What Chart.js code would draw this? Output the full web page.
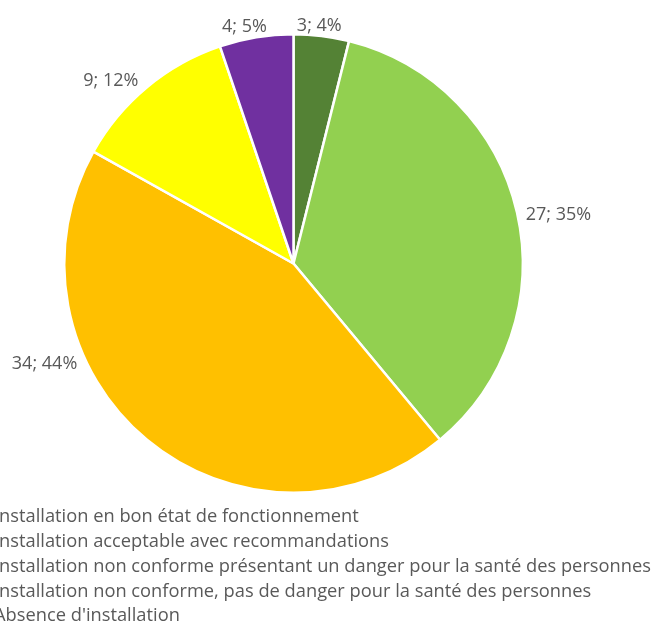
<!DOCTYPE html>
<html>
<head>
<meta charset="utf-8">
<script src="https://cdn.jsdelivr.net/npm/chart.js@4.4.1/dist/chart.umd.min.js"></script>
<style>
  html, body { margin: 0; padding: 0; background: #fff; overflow: hidden; }
  #wrap { position: relative; width: 655px; height: 628px; }
</style>
</head>
<body>
<div id="wrap"><canvas id="chart" width="655" height="628"></canvas></div>
<script>
// Catégories (ordre de la légende)
const categories = [
  "Installation en bon état de fonctionnement",
  "Installation acceptable avec recommandations",
  "Installation non conforme présentant un danger pour la santé des personnes",
  "Installation non conforme, pas de danger pour la santé des personnes",
  "Absence d'installation"
];
// Nombre d'installations par catégorie
const counts = [3, 27, 34, 9, 4];
// Pourcentages affichés
const percents = [4, 35, 44, 12, 5];
const sliceColors = ['#548235', '#92D050', '#FFC000', '#FFFF00', '#7030A0'];

const TEXT_COLOR = '#595959';
const FONT = '"Open Sans", "DejaVu Sans", sans-serif';

// Étiquettes de données à l'extérieur des secteurs
const outsideLabels = {
  id: 'outsideLabels',
  afterDatasetsDraw(chart, args, opts) {
    const { ctx } = chart;
    const meta = chart.getDatasetMeta(0);
    ctx.save();
    ctx.font = opts.font;
    ctx.fillStyle = TEXT_COLOR;
    ctx.textAlign = 'center';
    ctx.textBaseline = 'middle';
    meta.data.forEach((arc, i) => {
      const text = `${counts[i]}; ${percents[i]}%`;
      let angle = (arc.startAngle + arc.endAngle) / 2;
      // angle manuel (degrés depuis le haut, sens horaire) pour les étiquettes déplacées
      if (opts.angleOverride && opts.angleOverride[i] !== undefined) {
        angle = opts.angleOverride[i] * Math.PI / 180 - Math.PI / 2;
      }
      const dx = Math.cos(angle), dy = Math.sin(angle);
      const w = ctx.measureText(text).width;
      const ext = Math.abs(dx) * (w / 2 + opts.padX) + Math.abs(dy) * (opts.height / 2 + opts.padY);
      const d = arc.outerRadius + opts.gap + ext;
      ctx.fillText(text, arc.x + dx * d, arc.y + dy * d);
    });
    ctx.restore();
  }
};

// Légende en bas, alignée à gauche
const bottomLegend = {
  id: 'bottomLegend',
  afterDraw(chart, args, opts) {
    const { ctx } = chart;
    ctx.save();
    ctx.font = opts.font;
    ctx.fillStyle = TEXT_COLOR;
    ctx.textAlign = 'left';
    ctx.textBaseline = 'middle';
    categories.forEach((label, i) => {
      ctx.fillText(label, opts.x, opts.top + i * opts.lineHeight);
    });
    ctx.restore();
  }
};

new Chart(document.getElementById('chart'), {
  type: 'pie',
  data: {
    labels: categories,
    datasets: [{
      data: counts,
      backgroundColor: sliceColors,
      borderColor: '#ffffff',
      borderWidth: 2.5
    }]
  },
  options: {
    responsive: false,
    animation: false,
    layout: { padding: { top: 33, bottom: 134, left: 0, right: 68 } },
    plugins: {
      legend: { display: false },
      tooltip: { enabled: false },
      outsideLabels: {
        font: '18px ' + FONT,
        height: 13,
        padX: 7,
        padY: 0,
        gap: 0,
        angleOverride: { 0: 6.2, 1: 79.5, 2: 248, 3: 315, 4: 348.3 }
      },
      bottomLegend: {
        font: '18.3px ' + FONT,
        x: -6,
        top: 517,
        lineHeight: 24.8
      }
    }
  },
  plugins: [outsideLabels, bottomLegend]
});
</script>
</body>
</html>
